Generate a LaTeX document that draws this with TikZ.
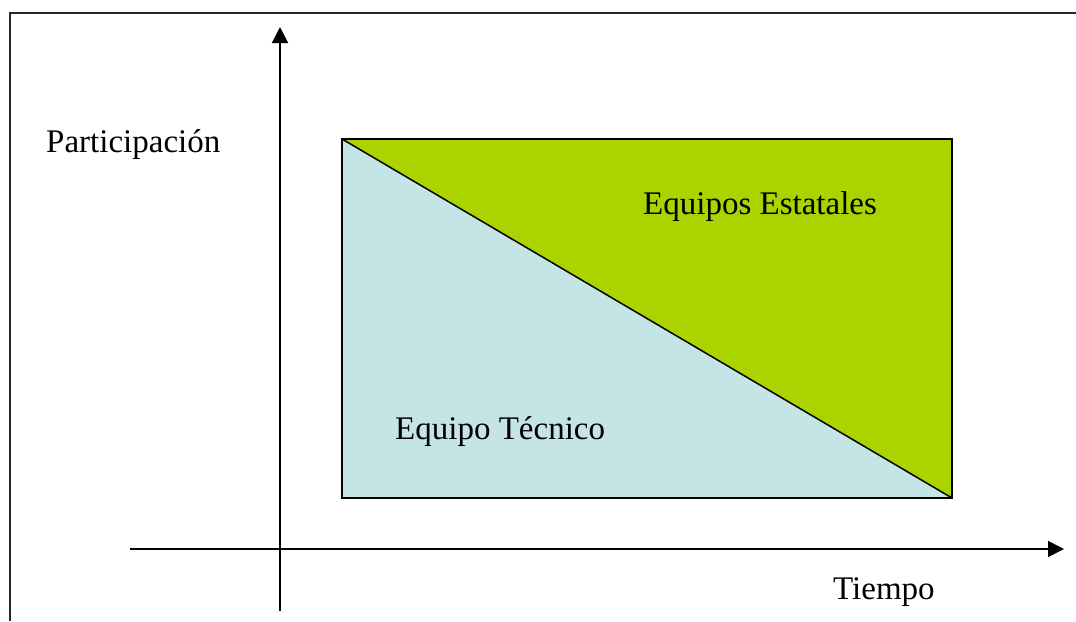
\documentclass[tikz,border=0pt]{standalone}
\usepackage{fontspec}
\setmainfont{Liberation Serif}
\usetikzlibrary{arrows.meta}
\definecolor{stategreen}{RGB}{170,211,0}
\definecolor{techblue}{RGB}{196,228,230}
\tikzset{
  axis/.style={line width=1.6pt, -{Triangle[length=16pt,width=16pt]}},
  frameline/.style={line width=2pt, draw=black!85},
  lbl/.style={font=\fontsize{33}{38}\selectfont, inner sep=0pt, anchor=base west},
}
\begin{document}
\begin{tikzpicture}[x=1pt,y=-1pt]
\useasboundingbox (0,0) rectangle (1076,621);
% frame (partly cut off)
\draw[frameline] (10,621) -- (10,13) -- (1076,13);
% rectangle regions
\coordinate (tl) at (342,139);
\coordinate (tr) at (952,139);
\coordinate (br) at (952,498);
\coordinate (bl) at (342,498);
\fill[techblue] (tl) -- (br) -- (bl) -- cycle;
\fill[stategreen] (tl) -- (tr) -- (br) -- cycle;
\draw[line width=1.5pt] (tl) rectangle (br);
\draw[line width=1.5pt] (tl) -- (br);
% axes
\coordinate (ybot) at (280,611);
\coordinate (ytop) at (280,27);
\coordinate (xleft) at (130,549);
\coordinate (xright) at (1064,549);
\draw[axis] (ybot) -- (ytop);
\draw[axis] (xleft) -- (xright);
% labels
\node[lbl] (part) at (46,152) {Participación};
\node[lbl] (estat) at (643,214) {Equipos Estatales};
\node[lbl] (tecn) at (395,439) {Equipo Técnico};
\node[lbl] (tiempo) at (833,599) {Tiempo};
\end{tikzpicture}
\end{document}
